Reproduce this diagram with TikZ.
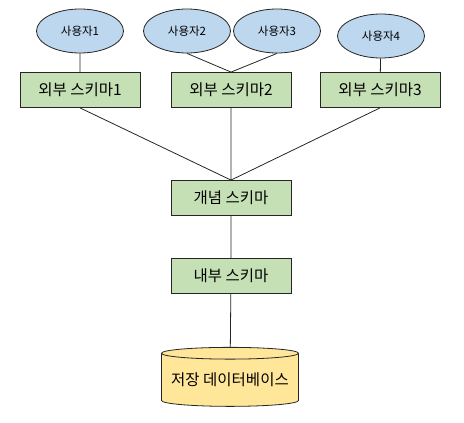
\documentclass[tikz,border=0pt]{standalone}
\usepackage{fontspec}
\setmainfont{Noto Sans CJK KR}
\usetikzlibrary{shapes.geometric,positioning}
\definecolor{userblue}{HTML}{BDD7EE}
\definecolor{schgreen}{HTML}{C5E0B4}
\definecolor{dbyellow}{HTML}{FFE699}
\tikzset{
  user/.style={ellipse,draw=black!85,line width=0.8pt,fill=userblue,minimum width=87pt,minimum height=44pt,inner sep=0pt,font=\fontsize{11.5}{13}\selectfont},
  schema/.style={rectangle,draw=black!85,line width=0.8pt,fill=schgreen,minimum width=120pt,minimum height=35pt,inner sep=0pt,font=\fontsize{15.5}{18}\selectfont},
  dbase/.style={cylinder,shape border rotate=90,aspect=0.1,draw=black!85,line width=0.8pt,fill=dbyellow,minimum width=137pt,minimum height=59pt,inner sep=0pt,font=\fontsize{15.5}{18}\selectfont},
  link/.style={line width=0.8pt,black!85}
}

\begin{document}
\begin{tikzpicture}[x=1pt,y=-1pt]
\useasboundingbox (0,0) rectangle (464,423);
\node[user] (u1) at (80,31) {사용자1};
\node[user] (u2) at (187,31) {사용자2};
\node[user] (u3) at (277,31) {사용자3};
\node[user] (u4) at (381,36) {사용자4};
\node[schema] (ext1) at (80,90) {외부 스키마1};
\node[schema] (ext2) at (231,90) {외부 스키마2};
\node[schema] (ext3) at (380,90) {외부 스키마3};
\node[schema] (con) at (231,198) {개념 스키마};
\node[schema] (int) at (231,276) {내부 스키마};
\node[dbase] (db) at (230,380) {저장 데이터베이스};
\draw[link] (u1) -- (ext1) (u2.south) -- (ext2.north) (u3.south) -- (ext2.north) (u4) -- (ext3);
\draw[link] (ext1.south) -- (con.north) (ext2) -- (con) (ext3.south) -- (con.north);
\draw[link] (con) -- (int) (int) -- (db);
\end{tikzpicture}
\end{document}
